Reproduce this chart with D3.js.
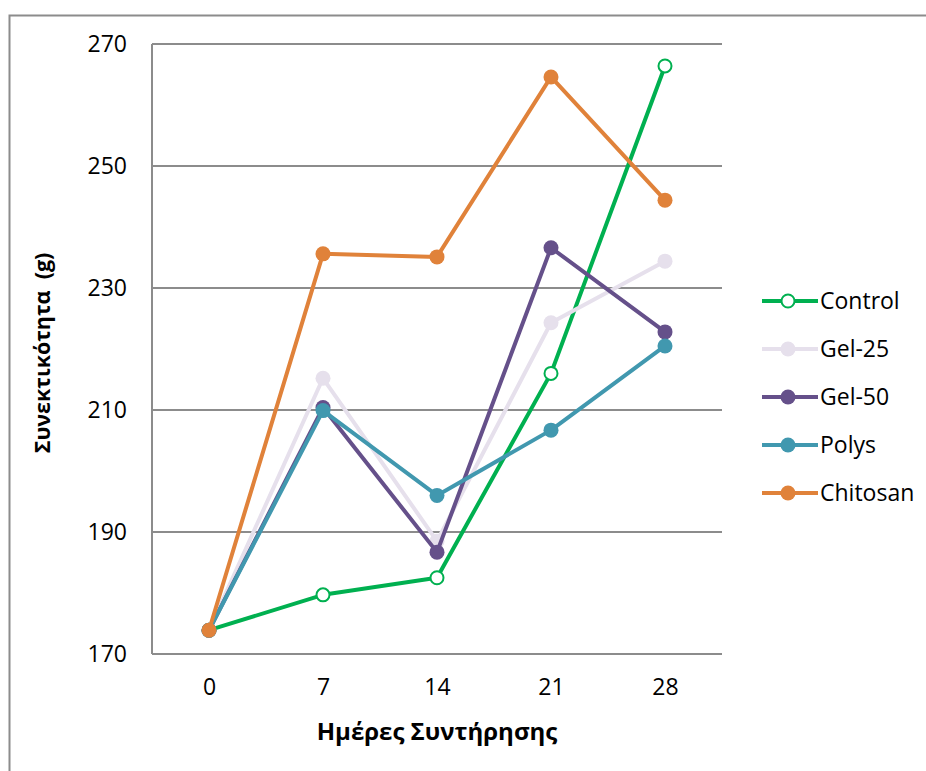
<!DOCTYPE html>
<html>
<head>
<meta charset="utf-8">
<script src="https://cdn.jsdelivr.net/npm/d3@7"></script>
<style>
  html, body { margin: 0; padding: 0; background: #fff; }
  svg { display: block; }
  text { font-family: "Open Sans", "Noto Sans", sans-serif; fill: #000; }
</style>
</head>
<body>
<svg id="chart" width="926" height="771"></svg>
<script>
// Storage days (x categories)
const days = ["0", "7", "14", "21", "28"];

// Texture measurements (g) per treatment
const control  = [173.9, 179.7, 182.5, 216.0, 266.4];
const gel25    = [173.9, 215.2, 188.5, 224.3, 234.4];
const gel50    = [173.9, 210.4, 186.7, 236.6, 222.8];
const polys    = [173.9, 209.9, 196.0, 206.7, 220.5];
const chitosan = [173.9, 235.6, 235.1, 264.6, 244.4];

const seriesNames  = ["Control", "Gel-25", "Gel-50", "Polys", "Chitosan"];
const seriesValues = [control, gel25, gel50, polys, chitosan];
const seriesColors = ["#00B050", "#E6E0EC", "#65508A", "#4198AF", "#E0823A"];
const hollow       = [true, false, false, false, false];

const yTicks = [170, 190, 210, 230, 250, 270];

const svg = d3.select("#chart");

// outer chart frame
svg.append("rect")
  .attr("x", 9.5).attr("y", 15.5)
  .attr("width", 940).attr("height", 800)
  .attr("fill", "none").attr("stroke", "#8c8c8c").attr("stroke-width", 2);

const plot = { left: 152, right: 722, top: 44, bottom: 654 };

const x = d3.scalePoint()
  .domain(days)
  .range([plot.left, plot.right])
  .padding(0.5);

const y = d3.scaleLinear()
  .domain([170, 270])
  .range([plot.bottom, plot.top]);

// horizontal gridlines
svg.append("g")
  .selectAll("line")
  .data(yTicks)
  .join("line")
  .attr("x1", plot.left).attr("x2", plot.right)
  .attr("y1", d => y(d)).attr("y2", d => y(d))
  .attr("stroke", "#8c8c8c").attr("stroke-width", 2);

// y axis line
svg.append("line")
  .attr("x1", plot.left).attr("x2", plot.left)
  .attr("y1", plot.top).attr("y2", plot.bottom)
  .attr("stroke", "#8c8c8c").attr("stroke-width", 2);

// y axis tick labels
const yAxis = d3.axisLeft(y).tickValues(yTicks).tickSize(0).tickPadding(25);
const gy = svg.append("g")
  .attr("transform", `translate(${plot.left},0)`)
  .call(yAxis);
gy.select(".domain").remove();
gy.selectAll("text")
  .attr("font-size", 23)
  .style("font-family", "'Open Sans', sans-serif")
  .attr("fill", "#000");

// x axis tick labels
const xAxis = d3.axisBottom(x).tickSize(0).tickPadding(25);
const gx = svg.append("g")
  .attr("transform", `translate(0,${plot.bottom})`)
  .call(xAxis);
gx.select(".domain").remove();
gx.selectAll("text")
  .attr("font-size", 23)
  .style("font-family", "'Open Sans', sans-serif")
  .attr("fill", "#000");

// axis titles
svg.append("text")
  .attr("x", 437).attr("y", 740)
  .attr("text-anchor", "middle")
  .attr("font-size", 24).attr("font-weight", "bold")
  .text("Ημέρες Συντήρησης");

svg.append("text")
  .attr("transform", "translate(50,353) rotate(-90)")
  .attr("text-anchor", "middle")
  .attr("font-size", 21.5).attr("font-weight", "bold")
  .attr("xml:space", "preserve")
  .style("white-space", "pre")
  .text("Συνεκτικότητα  (g)");

// series lines and markers
const line = d3.line()
  .x((d, i) => x(days[i]))
  .y(d => y(d));

seriesValues.forEach((vals, s) => {
  const g = svg.append("g");
  g.append("path")
    .datum(vals)
    .attr("d", line)
    .attr("fill", "none")
    .attr("stroke", seriesColors[s])
    .attr("stroke-width", 4)
    .attr("stroke-linejoin", "round");
  g.selectAll("circle")
    .data(vals)
    .join("circle")
    .attr("cx", (d, i) => x(days[i]))
    .attr("cy", d => y(d))
    .attr("r", hollow[s] ? 6.5 : 7.5)
    .attr("fill", hollow[s] ? "#fff" : seriesColors[s])
    .attr("stroke", seriesColors[s])
    .attr("stroke-width", hollow[s] ? 2 : 0);
});

// legend
const legend = svg.append("g");
seriesNames.forEach((name, s) => {
  const ly = 301 + s * 48;
  legend.append("line")
    .attr("x1", 762).attr("x2", 818)
    .attr("y1", ly).attr("y2", ly)
    .attr("stroke", seriesColors[s]).attr("stroke-width", 4);
  legend.append("circle")
    .attr("cx", 788).attr("cy", ly)
    .attr("r", hollow[s] ? 6.5 : 7.5)
    .attr("fill", hollow[s] ? "#fff" : seriesColors[s])
    .attr("stroke", seriesColors[s])
    .attr("stroke-width", hollow[s] ? 2 : 0);
  legend.append("text")
    .attr("x", 820).attr("y", ly)
    .attr("dy", "0.35em")
    .attr("font-size", 23)
    .text(name);
});
</script>
</body>
</html>
